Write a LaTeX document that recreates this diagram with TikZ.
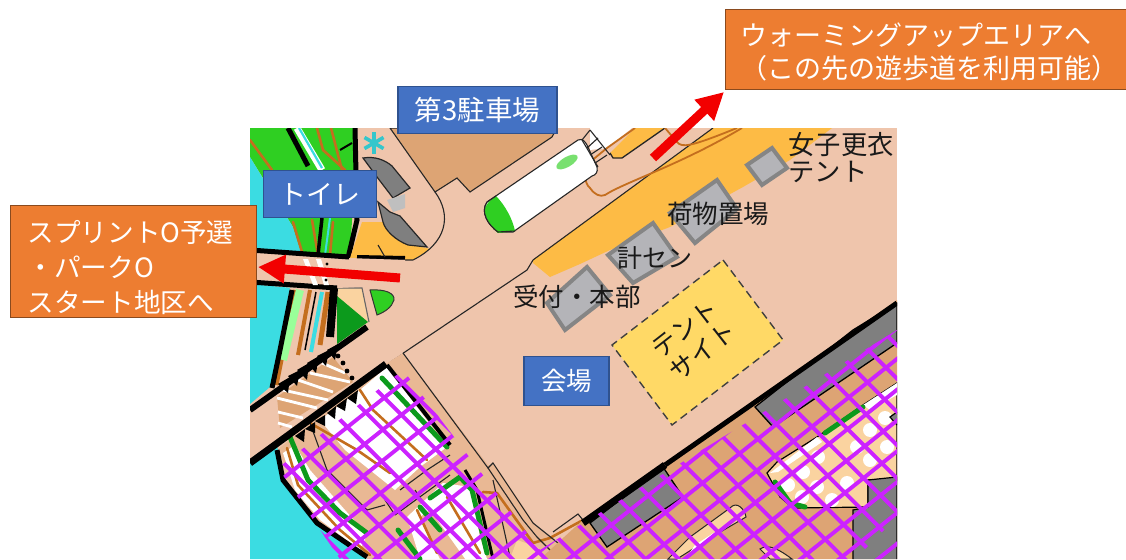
\documentclass[tikz,border=0pt]{standalone}
\usepackage{fontspec}
\setmainfont{Noto Sans CJK JP}
\usetikzlibrary{arrows.meta}
\definecolor{salmon}{HTML}{EFC5AC}
\definecolor{forest}{HTML}{E9B894}
\definecolor{tan}{HTML}{DDA474}
\definecolor{band}{HTML}{FDBB45}
\definecolor{tent}{HTML}{FFD966}
\definecolor{cream}{HTML}{FAD3A0}
\definecolor{water}{HTML}{3BDCE2}
\definecolor{bright}{HTML}{2FCF22}
\definecolor{dkgreen}{HTML}{0C9A1C}
\definecolor{trail}{HTML}{C46E1E}
\definecolor{rock}{HTML}{7F7F7F}
\definecolor{hatchc}{HTML}{CC22FF}
\definecolor{bluebox}{HTML}{4472C4}
\definecolor{blueedge}{HTML}{2F528F}
\definecolor{orangebox}{HTML}{ED7D31}
\definecolor{orangeedge}{HTML}{8A4A1E}
\definecolor{squarefill}{HTML}{B4B4B8}
\definecolor{squareedge}{HTML}{858585}
\tikzset{
  x=1pt,y=-1pt,
  bluelabel/.style={draw=blueedge,line width=1.6pt,fill=bluebox,text=white,inner sep=0pt,font=\fontsize{27}{27}\selectfont},
  orangelabel/.style={draw=orangeedge,line width=1.2pt,fill=orangebox,text=white,inner sep=0pt,anchor=north west,align=left,font=\fontsize{26.6}{35}\selectfont},
  maptext/.style={text=black!90,inner sep=0pt,font=\fontsize{25.5}{25.5}\selectfont},
  sq/.style={draw=squareedge,line width=4pt,fill=squarefill,line join=miter},
  thinline/.style={line width=1.1pt,black!85},
  trailline/.style={line width=2.6pt,trail,line cap=round,line join=round},
  greenline/.style={line width=5pt,dkgreen,line cap=round,line join=round},
  whiteline/.style={line width=2.8pt,white},
  hatchline/.style={line width=3.9pt,hatchc},
  redarrow/.style={line width=9pt,red!95!black,-{Triangle[length=27pt,width=27pt]}},
}
\begin{document}
\begin{tikzpicture}
\useasboundingbox (0,0) rectangle (1126,559);
\fill[white] (0,0) rectangle (1126,559);
\begin{scope}
\clip (250,128) rectangle (897,559);
\fill[salmon] (250,128) rectangle (897,559);
% upper-left green field and water
\fill[bright] (250,128) -- (357,128) -- (350,257) -- (300,257) -- (293,227) -- (250,157) -- cycle;
\fill[water] (250,157) -- (270,190) -- (293,227) -- (301,252) -- (250,252) -- cycle;
\draw[trailline] (250,140) -- (272,170);
\draw[trailline] (317,128) -- (323,150) -- (345,170);
\draw[trailline] (331,128) -- (342,170);
\draw[trailline] (293,222) -- (302,252);
\draw[trailline] (312,220) -- (318,255);
\draw[trailline] (333,222) -- (330,255);
\draw[line width=7pt,white] (297,128) -- (322,170);
\draw[line width=2.2pt,water] (299,128) -- (322,168);
\draw[line width=5pt,black] (288,128) -- (308,166);
\draw[line width=2pt,water] (330,218) -- (325,255);
\draw[line width=3.5pt,black] (322,218) -- (318,255);
\draw[line width=5pt,black] (355,128) -- (357,220) -- (348,258);
\draw[line width=2pt,black] (340,150) -- (352,143);
% yellow area by the toilet
\fill[band] (362,222) -- (350,258) -- (413,260) -- (430,249) -- (405,243) -- (383,222) -- cycle;
\draw[line width=4pt,black] (357,257) -- (405,258);
\draw[thinline] (378,245) -- (385,257);
% parking area
\filldraw[fill=tan,draw=black!85,line width=1.1pt] (390,128) -- (435,192) -- (457,178) -- (470,192) -- (552,137) -- (557,128) -- cycle;
\draw[thinline] (435,192) .. controls (452,215) and (447,243) .. (413,260) -- (350,260);
% toilet buildings
\filldraw[fill=rock,draw=black!85,line width=1.2pt] (363,158) .. controls (375,156) and (385,160) .. (392,166) -- (410,188) -- (393,198) -- (377,177) -- cycle;
\filldraw[fill=rock,draw=black!85,line width=1.2pt] (378,202) -- (390,212) -- (400,216) -- (427,247) -- (408,245) .. controls (395,240) and (385,230) .. (383,222) -- cycle;
\fill[black!25] (387,200) -- (405,194) -- (405,208) -- (393,212) -- cycle;
% star
\foreach \a in {30,90,150} \draw[line width=3.6pt,water!90!black] (374,143) ++(\a:11) -- ++(\a+180:22);
% west road lines, left channels
\fill[water] (250,284) -- (293,288) -- (285,333) -- (270,387) -- (250,404) -- cycle;
\fill[salmon] (290,288) -- (338,288) -- (335,340) -- (272,390) -- cycle;
\fill[cream] (338,288) -- (362,288) -- (368,322) -- (338,297) -- cycle;
\fill[dkgreen] (337,296) -- (368,322) -- (337,344) -- cycle;
\draw[thinline,black!60] (338,288) -- (362,288) -- (369,322);
\draw[line width=5pt,trail] (295,290) -- (276,385);
\draw[line width=8pt,green!40!white] (300,290) -- (283,360);
\draw[line width=4pt,trail] (310,290) -- (298,355);
\draw[line width=4pt,water] (322,292) -- (311,352);
\draw[line width=5pt,trail] (328,292) -- (320,345);
\draw[line width=1.5pt,black] (316,292) -- (305,350);
\draw[line width=5pt,black] (292,290) -- (280,350) -- (272,388);
\draw[line width=8pt,black] (334,288) -- (330,337);
\filldraw[fill=bright,draw=black!80,line width=1pt] (370,290) .. controls (385,289) and (395,293) .. (394,300) .. controls (392,307) and (385,312) .. (377,315) -- cycle;
% west road
\fill[salmon] (250,253) -- (348,258) -- (405,260) -- (405,285) -- (337,288) -- (250,283) -- cycle;
\draw[line width=5pt,black] (250,250) -- (349,257);
\draw[line width=5pt,black] (250,282) -- (337,288);
\fill[white] (303,259) -- (308,259) -- (318,285) -- (313,285) -- cycle;
\fill[white] (316,259) -- (321,259) -- (329,285) -- (324,285) -- cycle;
\fill[black] (327,264) circle (1.7);
\fill[black] (326,280) circle (1.7);
% yellow band
\fill[band] (533,263) -- (550,277) -- (580,264) -- (610,250) -- (670,227) -- (743,187) -- (790,160) -- (832,128) -- (713,128) -- (533,260) -- cycle;
% white and yellow ground by the stairs
\fill[white] (590,128) -- (632,128) -- (607,148) -- (590,150) -- cycle;
\fill[band] (610,153) -- (613,158) -- (622,158) -- (665,128) -- (635,128) -- cycle;
\draw[thinline] (390,362) -- (527,270) -- (533,260) -- (713,128);
\draw[thinline,line width=1.3pt] (610,153) -- (613,158) -- (622,158) -- (665,128);
\draw[line width=1.8pt,trail] (635,128) -- (607,148) -- (590,162) .. controls (583,170) and (584,183) .. (590,188) .. controls (595,195) and (600,197) .. (605,195) .. controls (625,182) and (680,165) .. (742,128);
\draw[line width=1.8pt,trail] (665,128) -- (677,142) .. controls (682,148) and (690,147) .. (737,128);
% white capsule
\filldraw[fill=white,draw=black!85,line width=1.1pt] (487,202) -- (578,140) .. controls (583,138) and (585,142) .. (587,145) -- (597,167) .. controls (598,172) and (596,175) .. (592,176) -- (513,232) -- (498,232) .. controls (488,225) and (480,212) .. (487,202) -- cycle;
\filldraw[fill=bright,draw=none] (485,208) .. controls (487,203) and (490,200) .. (496,196) .. controls (505,205) and (513,220) .. (515,231) -- (498,233) .. controls (490,226) and (483,214) .. (485,208) -- cycle;
\draw[thinline] (487,202) -- (496,196);
\draw[thinline] (515,231) -- (498,232) .. controls (488,225) and (480,212) .. (487,202);
\fill[bright!65!white] (567,162) ellipse [x radius=12,y radius=5,rotate=30];
% stairs
\draw[thinline] (582,140) -- (590,130);
\draw[thinline] (587,148) -- (598,138);
\draw[thinline] (590,155) -- (602,147);
\draw[thinline] (595,163) -- (607,155);
\draw[thinline] (582,140) -- (598,167);
\draw[thinline] (590,130) -- (610,155);
% south-west road and lower forest
\fill[forest] (277,450) -- (387,363) -- (403,353) -- (488,465) -- (495,465) -- (537,527) -- (563,547) -- (583,520) -- (540,559) -- (367,559) -- (317,523) -- cycle;
\fill[water] (250,455) -- (277,445) -- (283,480) -- (317,523) -- (367,559) -- (250,559) -- cycle;
\fill[salmon] (250,408) -- (367,327) -- (403,353) -- (387,363) -- (250,463) -- cycle;
% striped crossing
\fill[tan] (277,397) -- (333,357) -- (353,382) -- (280,428) -- cycle;
\draw[whiteline] (322,363) -- (345,373);
\draw[whiteline] (310,373) -- (350,382);
\draw[whiteline] (298,380) -- (333,392);
\draw[whiteline] (283,390) -- (328,400);
\draw[whiteline] (277,398) -- (317,408);
\draw[whiteline] (278,412) -- (303,418);
\draw[whiteline] (278,423) -- (292,427);
\foreach \p in {(338,356),(343,363),(347,371),(352,378)} \fill[black] \p circle (2.4);
% white forest patches
\fill[white] (320,420) -- (360,390) -- (387,367) -- (447,447) -- (420,467) -- (395,490) -- (370,470) -- (345,450) -- cycle;
\fill[white] (283,453) -- (295,445) -- (310,470) -- (345,510) -- (367,535) -- (360,550) -- (320,520) -- (295,490) -- cycle;
\fill[white] (443,483) -- (470,487) -- (480,537) -- (487,559) -- (420,559) -- (407,517) -- cycle;
\fill[cream] (517,540) -- (537,547) -- (547,559) -- (510,559) -- cycle;
\fill[forest] (440,559) -- (420,517) -- (430,510) -- (465,559) -- cycle;
\draw[trailline] (360,390) -- (373,410) -- (427,460);
\draw[trailline] (310,423) -- (357,450) -- (390,473);
\draw[trailline] (287,448) -- (298,485) -- (340,530) -- (370,555);
\draw[trailline] (447,497) -- (480,553);
\draw[trailline] (417,510) -- (437,553);
\draw[trailline] (483,492) -- (497,493) -- (533,543) -- (550,538) -- (583,520);
\draw[greenline] (382,378) -- (447,447);
\draw[line width=4pt,black] (387,365) -- (450,445);
\draw[greenline] (290,437) -- (308,480) -- (340,513) -- (367,533);
\draw[greenline] (430,498) -- (460,477) -- (472,490) -- (487,553);
\draw[line width=3pt,black] (465,470) -- (477,490) -- (493,559);
\draw[greenline] (420,507) -- (440,530);
\draw[greenline] (398,530) -- (420,559);
\draw[thinline] (310,423) -- (327,470) -- (367,510) -- (385,505);
\draw[thinline] (400,490) -- (427,470) -- (450,455);
\draw[thinline] (395,515) -- (450,475);
\draw[thinline] (385,500) -- (395,515);
\draw[thinline] (415,490) -- (425,505);
\draw[line width=5pt,black] (277,450) -- (283,480) -- (317,523) -- (367,557);
% thin edges of the plaza
\draw[thinline] (403,353) -- (488,468) -- (493,463) -- (533,523) -- (563,547) -- (553,552);
\draw[thinline] (488,468) -- (523,520) -- (537,537) -- (553,553);
\draw[thinline] (493,480) -- (510,557);
\draw[thinline] (553,532) -- (578,514) -- (583,520);
% south-east area
\fill[tan] (583,520) -- (897,300) -- (897,559) -- (540,559) -- cycle;
\filldraw[fill=rock,draw=black,line width=1.3pt] (590,523) -- (607,547) -- (683,497) -- (663,467) -- cycle;
\filldraw[fill=rock,draw=black,line width=1.3pt] (755,407) -- (773,427) -- (897,343) -- (897,303) -- (853,330) -- cycle;
\filldraw[fill=cream,draw=black,line width=1.2pt] (767,473) -- (777,462) -- (817,437) -- (863,405) -- (897,383) -- (897,480) -- (868,480) -- (868,507) -- (793,508) -- (780,497) -- cycle;
\foreach \p in {(788,485),(803,472),(817,487),(832,500),(847,483),(857,447),(870,430),(887,447),(802,497),(870,460),(818,457),(885,418)} \fill[white] \p circle (7);
\fill[white] (770,473) -- (817,437) -- (822,442) -- (778,472) -- cycle;
\fill[white] (863,405) -- (897,383) -- (897,395) -- (870,410) -- cycle;
\draw[greenline] (825,433) -- (863,407);
\draw[greenline] (775,482) -- (790,503) -- (805,507);
\filldraw[fill=rock,draw=black,line width=1.2pt] (853,559) -- (853,510) -- (868,507) -- (868,480) -- (897,477) -- (897,559);
\filldraw[fill=rock,draw=black,line width=1.2pt] (897,412) -- (890,417) -- (897,425);
\filldraw[fill=cream,draw=black!85,line width=1pt] (690,537) -- (730,508) .. controls (737,500) and (745,510) .. (746,517) -- (710,538) -- (677,559) -- (668,559) -- cycle;
\fill[white] (695,545) -- (715,532) -- (712,537) -- (690,552) -- cycle;
\filldraw[fill=cream,draw=black!85,line width=1pt] (760,549) .. controls (768,543) and (780,550) .. (792,559) -- (770,559) -- cycle;
\draw[line width=7pt,black] (583,523) -- (665,465);
\draw[line width=5pt,black] (665,465) -- (897,303);
% south-west road black lines and teeth
\draw[line width=6pt,black] (250,410) -- (367,327);
\draw[line width=7pt,black] (250,463) -- (386,364);
\foreach \xa/\ya/\xb/\yb/\xc/\yc in {278/384/288/393/290/377, 288/376/297/386/300/370, 297/370/307/380/309/363, 307/363/316/373/319/356, 317/356/326/366/329/350, 327/350/335/360/338/344}
  {\fill[black] (\xa,\ya) -- (\xb,\yb) -- (\xc,\yc) -- cycle;}
\foreach \xa/\ya/\xb/\yb/\xc/\yc in {295/436/304/442/305/429, 305/429/315/433/315/422, 315/421/325/426/325/415, 327/413/335/419/336/406, 336/406/345/411/347/398, 347/398/356/404/358/390}
  {\fill[black] (\xa,\ya) -- (\xb,\yb) -- (\xc,\yc) -- cycle;}
% hatching
\begin{scope}
\clip (278,468) -- (403,370) -- (540,550) -- (580,525) -- (897,330) -- (897,559) -- (340,559) -- cycle;
\foreach \k in {-12,...,30} {
  \pgfmathsetmacro{\cc}{550.6+24.1*\k}
  \pgfmathsetmacro{\px}{0.623*\cc}
  \pgfmathsetmacro{\py}{0.782*\cc}
  \draw[hatchline] (\px+782,\py-623) -- (\px-782,\py+623);
}
\foreach \k in {-24,...,24} {
  \pgfmathsetmacro{\cc}{-14.1+23.5*\k}
  \pgfmathsetmacro{\px}{-0.707*\cc}
  \pgfmathsetmacro{\py}{0.707*\cc}
  \draw[hatchline] (\px+707,\py+707) -- (\px-707,\py-707);
}
\end{scope}
% event squares
\draw[sq] (772,148) -- (787,168) -- (762,185) -- (747,165) -- cycle;
\draw[sq] (717,180) -- (737,209) -- (695,243) -- (670,213) -- cycle;
\draw[sq] (653,223) -- (677,257) -- (633,283) -- (608,255) -- cycle;
\draw[sq] (587,267) -- (610,295) -- (565,330) -- (547,303) -- cycle;
% tent site
\filldraw[fill=tent,draw=black!75,line width=1.4pt,dash pattern=on 8pt off 5pt] (723,260) -- (783,340) -- (672,425) -- (612,345) -- cycle;
\end{scope}
% labels on the map
\node[maptext,font=\fontsize{26.3}{26.3}\selectfont] (women1) at (841,145) {女子更衣};
\node[maptext,font=\fontsize{26.3}{26.3}\selectfont] (women2) at (828,172) {テント};
\node[maptext] (luggage) at (718,214) {荷物置場};
\node[maptext,font=\fontsize{25}{25}\selectfont] (keisen) at (655,258) {計セン};
\node[maptext] (desk) at (577,297) {受付・本部};
\node[maptext,rotate=38,align=center,font=\fontsize{25.5}{29}\selectfont] (tentsite) at (694,340) {テント\\サイト};
% blue labels
\node[bluelabel,minimum width=159pt,minimum height=47pt,font=\fontsize{27.5}{27.5}\selectfont] (parking) at (477.5,110) {\raisebox{-2.5pt}{第3駐車場}};
\node[bluelabel,minimum width=113pt,minimum height=47pt] (toilet) at (320,194) {\raisebox{-2pt}{トイレ}};
\node[bluelabel,minimum width=85pt,minimum height=49pt,font=\fontsize{25.5}{25.5}\selectfont] (venue) at (566.5,381) {会場};
% orange labels
\node[orangelabel,minimum width=246pt,minimum height=112pt,text width=246pt] (sprint) at (10,205) {\rule{0pt}{33pt}\hspace*{17pt}スプリントO予選\\\hspace*{17pt}・パークO\\\hspace*{17pt}スタート地区へ};
\node[orangelabel,minimum width=410pt,minimum height=80pt,text width=410pt,font=\fontsize{27}{33}\selectfont] (warm) at (725,9) {\rule{0pt}{28pt}\hspace*{15pt}ウォーミングアップエリアへ\\\hspace*{15pt}（この先の遊歩道を利用可能）};
% red arrows
\coordinate (a1s) at (400,278);
\coordinate (a1e) at (258,267);
\coordinate (a2s) at (653,158);
\coordinate (a2e) at (724,92);
\draw[redarrow] (a1s) -- (a1e);
\draw[redarrow] (a2s) -- (a2e);
\end{tikzpicture}
\end{document}
